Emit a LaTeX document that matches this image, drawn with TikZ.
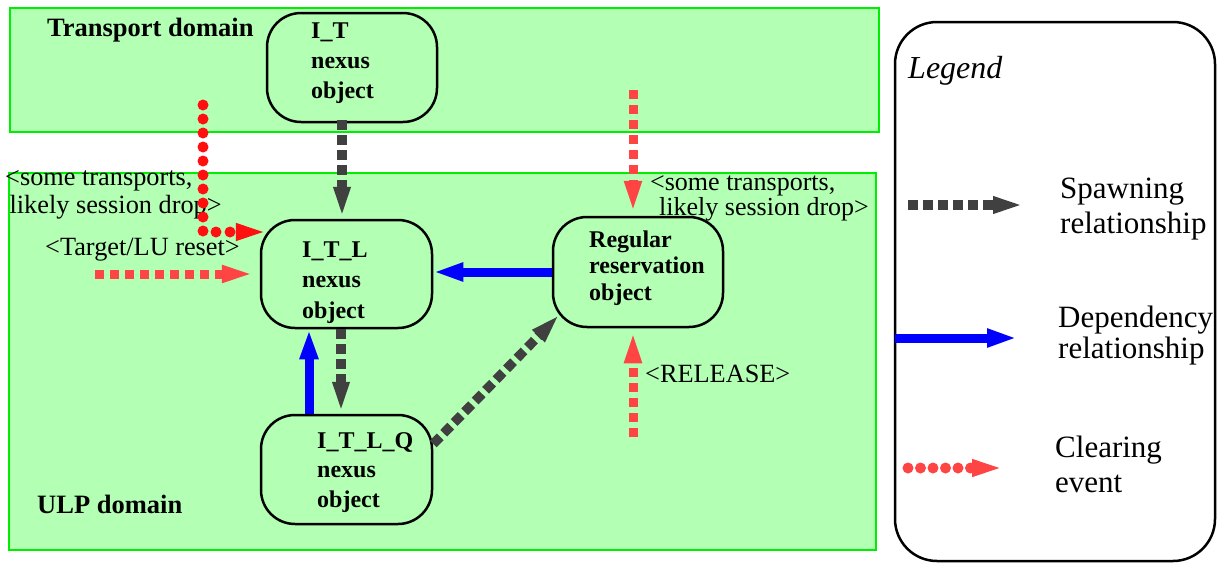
\documentclass[tikz,border=0pt]{standalone}
\usepackage{fontspec}
\setmainfont{Liberation Serif}
\usetikzlibrary{arrows.meta}
\definecolor{dfill}{HTML}{B3FFB3}
\definecolor{dline}{HTML}{00EE00}
\definecolor{sgray}{HTML}{404040}
\definecolor{cred}{HTML}{FF4444}
\definecolor{dred}{HTML}{FF1010}
\definecolor{dblue}{HTML}{0000FF}
\newcommand{\mylines}[1]{\begin{tabular}[t]{@{}l@{}}#1\end{tabular}}
\begin{document}
\begin{tikzpicture}[x=1pt,y=-1pt,
  dombox/.style={draw=dline, fill=dfill, line width=2pt, inner sep=0pt},
  nexus/.style={draw, line width=2.5pt, fill=dfill, rounded corners=34pt, inner sep=0pt, minimum width=171pt, minimum height=108pt},
  legbox/.style={draw, line width=2.5pt, fill=white, rounded corners=42pt, inner sep=0pt},
  txt/.style={anchor=base west, inner sep=0pt},
  ntext/.style={txt, font=\fontsize{24}{30}\selectfont\bfseries},
  spawn/.style={draw=sgray, line width=9.5pt, dash pattern=on 10pt off 5pt, -{Triangle[length=32pt,width=15pt]}},
  dep/.style={draw=dblue, line width=9pt, -{Triangle[length=30pt,width=17pt]}},
  clrdash/.style={draw=cred, line width=9pt, dash pattern=on 9pt off 6pt, -{Triangle[length=35pt,width=15pt]}},
  clrdot/.style={draw=#1, line width=11pt, line cap=round, dash pattern=on 0pt off 14pt, -{Triangle[length=33pt,width=15pt]}},
]
\useasboundingbox (0,0) rectangle (1223,563);
% domains
\node[dombox, minimum width=869pt, minimum height=124pt] (TD) at (444.5,70) {};
\node[dombox, minimum width=867pt, minimum height=377pt] (UD) at (442.5,361.5) {};
\node[txt, font=\fontsize{26.5}{30}\selectfont\bfseries] (TDl) at (47,36) {Transport domain};
\node[txt, font=\fontsize{26.5}{30}\selectfont\bfseries] (UDl) at (37,513) {ULP domain};
% legend box
\node[legbox, minimum width=320pt, minimum height=539pt] (LEG) at (1055,291.5) {};
% nexus objects
\node[nexus, minimum height=109pt, minimum width=170pt] (IT) at (352,67.5) {};
\node[nexus] (ITL) at (346.5,274) {};
\node[nexus, minimum height=109pt] (ITLQ) at (346.5,469.5) {};
\node[nexus, minimum width=170pt, minimum height=110pt] (REG) at (638,272) {};
\coordinate (regsw) at (REG.south -| REG.west);
\node[ntext] (ITt) at (311,38) {\mylines{I\_T\\nexus\\object}};
\node[ntext, font=\fontsize{24}{30.5}\selectfont\bfseries] (ITLt) at (302,257) {\mylines{I\_T\_L\\nexus\\object}};
\node[ntext, font=\fontsize{24}{29.5}\selectfont\bfseries] (ITLQt) at (317,448) {\mylines{I\_T\_L\_Q\\nexus\\object}};
\node[ntext, font=\fontsize{24}{26.5}\selectfont\bfseries] (REGt) at (589,247) {\mylines{Regular\\reservation\\object}};
% labels
\node[txt, font=\fontsize{26.3}{28}\selectfont] (lab1) at (5,185) {\mylines{<some transports,\\\,likely session drop>}};
\node[txt, font=\fontsize{26}{24}\selectfont] (lab2) at (650,190) {\mylines{<some transports,\\\hspace{9pt}likely session drop>}};
\node[txt, font=\fontsize{26.3}{28}\selectfont] (lab3) at (45,255) {<Target/LU reset>};
\node[txt, font=\fontsize{26.3}{28}\selectfont] (lab4) at (645,382) {<RELEASE>};
% connectors
\draw[spawn] ([xshift=-10pt,yshift=3pt]IT.south) -- ([xshift=-10pt]IT.south |- ITL.north);
\draw[spawn] ([xshift=-5.5pt]ITL.south) -- ([xshift=-5.5pt]ITL.south |- ITLQ.north);
\draw[spawn] ([yshift=25.5pt]ITLQ.east) -- ([xshift=9pt,yshift=15pt]regsw);
\draw[dep] (REG.west) -- (REG.west -| ITL.east);
\draw[dep] ([xshift=-37.5pt]ITLQ.north) -- ([xshift=-37.5pt]ITLQ.north |- ITL.south);
\coordinate (cl0) at (203,105);
\draw[clrdot=dred] (cl0) |- ([xshift=9pt,yshift=42pt]ITL.west);
\coordinate (tl0) at (95,274);
\draw[clrdash] (tl0) -- ([xshift=-3pt]ITL.west);
\coordinate (rt0) at (633,90);
\draw[clrdash] (rt0) -- (rt0 |- REG.north);
\coordinate (rb0) at (633,437);
\draw[clrdash] (rb0) -- (rb0 |- REG.south);
% legend content
\node[txt, font=\fontsize{32}{34}\selectfont\itshape] (LEGt) at (908,78) {Legend};
\coordinate (ls0) at (908,205);
\coordinate (ls1) at (1025,205);
\draw[spawn] (ls0) -- (ls1);
\node[txt, font=\fontsize{31}{35}\selectfont] (ls) at (1060,198) {\mylines{Spawning\\relationship}};
\coordinate (ld0) at (895,338);
\coordinate (ld1) at (1017,338);
\draw[dep] (ld0) -- (ld1);
\node[txt, font=\fontsize{31}{31}\selectfont] (ld) at (1058,327) {\mylines{Dependency\\relationship}};
\coordinate (lc0) at (908,468);
\coordinate (lc1) at (1005,468);
\draw[clrdot=cred, dash pattern=on 0pt off 12.5pt] (lc0) -- (lc1);
\node[txt, font=\fontsize{31}{35}\selectfont] (lc) at (1055,457) {\mylines{Clearing\\event}};
\end{tikzpicture}
\end{document}
